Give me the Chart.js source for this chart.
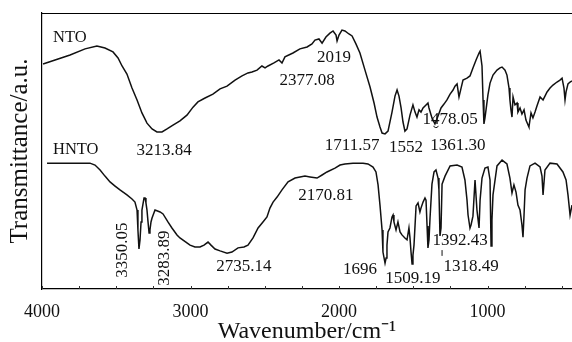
<!DOCTYPE html>
<html><head><meta charset="utf-8">
<script src="https://cdn.jsdelivr.net/npm/chart.js@4.4.1/dist/chart.umd.min.js"></script>
<style>html,body{margin:0;padding:0;background:#fff;overflow:hidden}canvas{display:block}</style>
</head><body>
<canvas id="c" width="572" height="342"></canvas>
<script>
// ---- data (wavenumber in cm^-1, transmittance in arbitrary units) ----
const ntoWave = [3993,3912,3811,3710,3630,3576,3522,3488,3461,3428,3394,3360,3327,3293,3259,3226,3192,3158,3118,3071,3024,2983,2950,2902,2849,2801,2754,2700,2653,2613,2586,2552,2519,2498,2478,2438,2404,2384,2364,2310,2263,2215,2182,2162,2135,2114,2088,2061,2040,2020,2013,2000,1980,1960,1933,1912,1886,1859,1825,1791,1764,1744,1724,1710,1690,1670,1643,1623,1609,1596,1582,1569,1556,1542,1522,1502,1488,1475,1461,1448,1434,1414,1401,1394,1374,1354,1333,1313,1293,1273,1252,1232,1219,1205,1192,1178,1165,1138,1118,1098,1077,1057,1050,1037,1030,1024,1017,1010,997,983,963,936,916,902,882,869,855,849,842,835,828,815,801,795,781,768,754,741,727,721,707,694,680,667,646,626,613,599,579,559,532,512,498,485,478,471,458,444,431];
const ntoT = [81.5,83.0,84.8,87.0,88.0,87.3,85.9,83.7,80.8,77.9,72.8,68.5,63.8,60.1,58.0,56.9,56.9,58.0,59.4,60.9,63.0,65.9,67.8,69.2,70.6,72.5,73.5,75.7,77.2,78.3,78.6,79.3,80.8,80.1,80.8,81.9,83.0,81.9,84.1,85.5,87.0,87.7,88.8,90.2,90.6,89.1,91.3,92.7,93.5,92.0,89.9,92.0,93.8,93.5,92.4,91.7,88.8,85.5,79.3,73.2,67.4,62.3,58.7,56.5,56.2,57.2,64.1,69.9,72.1,69.9,65.6,60.5,57.2,58.0,63.0,66.7,64.1,62.3,64.9,64.1,65.6,66.7,67.4,65.6,62.0,59.8,62.7,65.6,67.0,68.5,70.6,72.1,73.5,74.3,69.6,72.8,75.7,76.4,77.2,80.1,83.0,85.5,86.2,80.8,68.5,59.8,62.0,64.9,70.3,74.6,77.5,79.3,80.1,80.4,79.3,77.5,72.8,68.5,64.9,62.3,69.6,66.7,67.4,64.1,65.6,63.4,64.9,61.2,59.4,58.7,63.8,62.0,64.1,66.3,69.6,68.5,69.9,71.4,72.8,73.9,75.0,75.7,76.4,72.8,68.5,71.4,74.3,75.0,75.4];
const hntoWave = [3966,3879,3778,3677,3643,3609,3576,3542,3508,3475,3428,3394,3374,3360,3354,3347,3340,3333,3327,3313,3306,3300,3293,3286,3279,3273,3266,3259,3239,3205,3185,3152,3125,3091,3071,3024,3003,2970,2936,2909,2882,2862,2835,2801,2754,2721,2680,2640,2613,2579,2545,2512,2485,2465,2444,2417,2384,2343,2296,2229,2195,2148,2114,2081,2027,1993,1960,1906,1838,1805,1771,1751,1737,1724,1710,1704,1690,1683,1677,1670,1657,1643,1636,1630,1616,1603,1589,1576,1556,1542,1529,1522,1515,1508,1502,1495,1481,1468,1455,1448,1434,1421,1414,1407,1401,1394,1387,1374,1360,1347,1333,1327,1320,1313,1306,1286,1252,1205,1172,1152,1138,1131,1118,1111,1098,1084,1071,1057,1050,1037,1017,997,983,976,970,963,936,902,869,849,835,822,808,795,781,768,761,754,747,734,714,680,646,633,626,613,579,532,492,471,458,444,431];
const hntoT = [45.6,45.6,45.6,45.6,44.9,43.1,40.9,38.8,37.3,35.9,34.1,32.6,31.5,28.6,21.4,14.5,17.8,24.3,28.6,33.0,33.0,31.2,28.6,24.3,20.3,21.4,24.3,25.7,28.6,27.9,27.2,24.3,22.1,19.6,18.5,16.7,15.9,15.2,15.2,15.9,17.0,15.9,14.5,13.8,13.0,13.4,14.9,15.2,15.9,18.5,22.1,24.3,26.1,29.3,31.5,33.3,35.9,38.8,40.2,40.9,40.6,40.2,41.3,42.4,43.8,44.9,45.3,45.6,45.6,45.3,44.2,42.4,37.7,30.4,21.4,13.4,9.4,11.2,15.9,20.7,22.1,26.1,26.8,24.3,21.4,24.3,20.7,19.6,18.5,17.8,22.1,18.5,13.4,9.1,12.3,15.9,30.1,31.2,27.9,29.3,31.5,33.0,32.2,22.8,14.9,17.8,25.7,38.0,42.4,43.1,40.2,35.9,19.2,22.1,38.0,40.9,44.6,44.9,44.2,39.5,32.2,26.8,22.1,23.2,26.4,39.5,28.6,22.1,32.2,40.2,43.8,44.2,39.5,15.6,25.0,34.1,44.6,46.7,45.3,40.2,34.8,37.7,35.1,30.4,28.6,23.2,18.8,26.8,35.9,40.2,44.6,45.6,44.2,40.9,34.1,43.1,45.6,45.3,42.4,39.5,34.1,26.8,30.4];
const seriesNames = ['NTO', 'HNTO'];
const xMajorLabels = [4000, 3000, 2000, 1000];
const peakTexts = ['3213.84','2377.08','2019','1711.57','1552','1478.05','1361.30','2170.81','1696','1509.19','1392.43','1318.49','2735.14','3350.05','3283.89'];

// ---- annotation anchors (data coordinates) ----
const nameAnchors = [{w:3926, t:89.5}, {w:3926, t:48.9}];
const peakAnchors = [
  {w:3178,t:48.5},{w:2215,t:73.9},{w:2034,t:82.2},{w:1912,t:50.4},{w:1549,t:49.6},
  {w:1252,t:59.8},{w:1199,t:50.5},{w:2088,t:32.2},{w:1859,t:5.4},{w:1502,t:2.3},
  {w:1185,t:15.9},{w:1111,t:6.6},{w:2640,t:6.6},{w:3458,t:14.1,rot:true},{w:3178,t:11.2,rot:true}
];

const SERIF = '"Liberation Serif", "Times New Roman", serif';
const INK = '#111';

const annot = {
  id: 'annot',
  afterDraw(chart) {
    const ctx = chart.ctx, xs = chart.scales.x, ys = chart.scales.y, a = chart.chartArea;
    ctx.save();
    // top frame line
    ctx.strokeStyle = '#000'; ctx.lineWidth = 1.2;
    ctx.beginPath(); ctx.moveTo(a.left, a.top + 0.5); ctx.lineTo(a.right, a.top + 0.5); ctx.stroke();
    // inward tick marks
    ctx.lineWidth = 1; ctx.strokeStyle = '#333';
    xs.ticks.forEach(t => {
      const p = Math.round(xs.getPixelForValue(t.value)) + 0.5;
      ctx.beginPath(); ctx.moveTo(p, a.bottom); ctx.lineTo(p, a.bottom - 3); ctx.stroke();
    });
    ctx.fillStyle = INK;
    ctx.textBaseline = 'alphabetic';
    // series names
    ctx.font = '16.5px ' + SERIF; ctx.textAlign = 'left';
    seriesNames.forEach((n, i) => {
      ctx.fillText(n, xs.getPixelForValue(nameAnchors[i].w), ys.getPixelForValue(nameAnchors[i].t));
    });
    // peak labels
    ctx.font = '17px ' + SERIF;
    peakTexts.forEach((txt, i) => {
      const an = peakAnchors[i];
      const px = xs.getPixelForValue(an.w), py = ys.getPixelForValue(an.t);
      if (an.rot) {
        ctx.save(); ctx.translate(px, py); ctx.rotate(-Math.PI / 2);
        ctx.textAlign = 'center'; ctx.textBaseline = 'middle';
        ctx.fillText(txt, 0, 0); ctx.restore();
      } else {
        ctx.textAlign = 'center'; ctx.textBaseline = 'alphabetic';
        ctx.fillText(txt, px, py);
      }
    });
    // small peak markers
    ctx.strokeStyle = INK; ctx.lineWidth = 1;
    let mx = xs.getPixelForValue(1347), my = ys.getPixelForValue(58.3);
    ctx.beginPath(); ctx.arc(mx, my - 3, 2.5, 0.1 * Math.PI, 0.9 * Math.PI); ctx.stroke();
    mx = xs.getPixelForValue(1306);
    ctx.beginPath(); ctx.moveTo(mx, ys.getPixelForValue(14.1)); ctx.lineTo(mx, ys.getPixelForValue(12.0)); ctx.stroke();
    ctx.restore();
  }
};

const toPts = (ws, ts) => ws.map((w, i) => ({x: w, y: ts[i]}));

new Chart(document.getElementById('c'), {
  type: 'line',
  data: {
    datasets: [
      {label: seriesNames[0], data: toPts(ntoWave, ntoT), borderColor: INK, borderWidth: 1.5, pointRadius: 0, tension: 0, fill: false},
      {label: seriesNames[1], data: toPts(hntoWave, hntoT), borderColor: INK, borderWidth: 1.5, pointRadius: 0, tension: 0, fill: false}
    ]
  },
  options: {
    responsive: false,
    animation: false,
    devicePixelRatio: 1,
    layout: {padding: {top: 13, right: 0, left: 0, bottom: 0}},
    plugins: {legend: {display: false}, tooltip: {enabled: false}},
    scales: {
      x: {
        type: 'linear', reverse: true, min: 431, max: 4000,
        grid: {display: false},
        border: {display: true, color: '#000', width: 1.2},
        ticks: {
          stepSize: 250, autoSkip: false, maxRotation: 0, includeBounds: false,
          color: INK, padding: 6,
          font: {family: SERIF, size: 18, lineHeight: 1},
          callback: v => xMajorLabels.includes(v) ? String(v) : ''
        },
        title: {display: true, text: 'Wavenumber/cm\u207B\u00B9', color: INK,
          font: {family: SERIF, size: 24, lineHeight: 0.8}, padding: {top: 0, bottom: 1}},
        afterFit: s => { s.height = 53; }
      },
      y: {
        min: 0, max: 100,
        grid: {display: false},
        border: {display: true, color: '#000', width: 1.2},
        ticks: {display: false},
        title: {display: true, text: 'Transmittance/a.u.', color: INK,
          font: {family: SERIF, size: 25, lineHeight: 1}, padding: {top: 8, bottom: 0}},
        afterFit: s => { s.width = 42; }
      }
    }
  },
  plugins: [annot]
});
</script>
</body></html>
